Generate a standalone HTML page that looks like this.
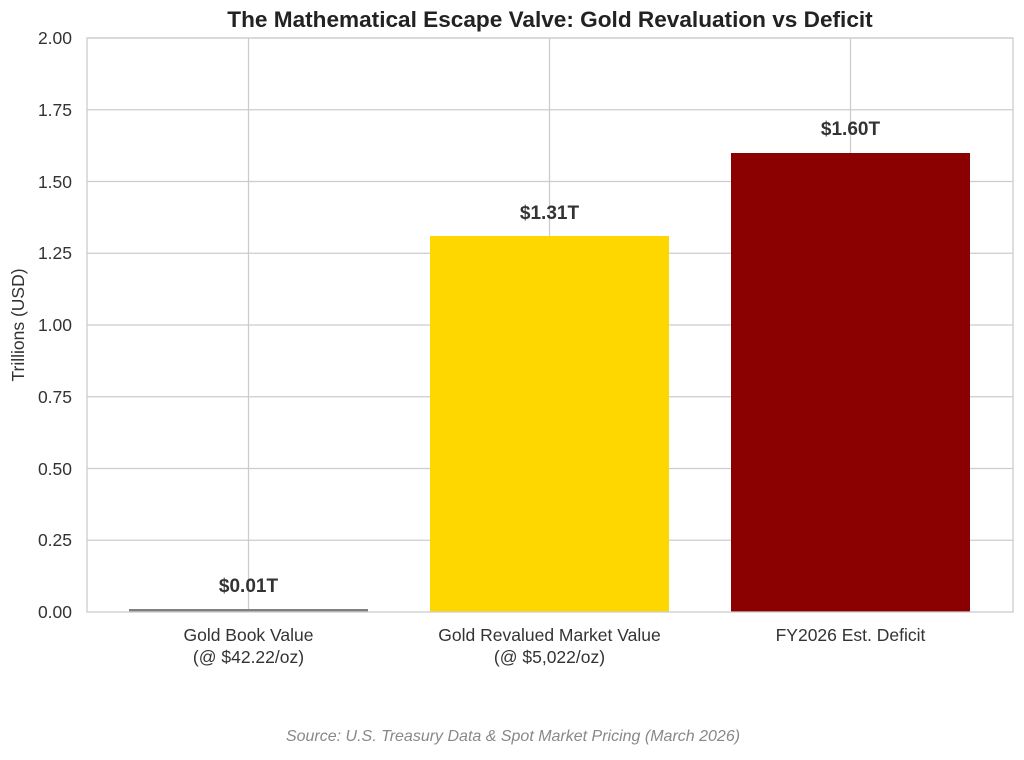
<!DOCTYPE html>
<html><head><meta charset="utf-8"><style>
body{margin:0;background:#fff;}
svg text{font-family:"Liberation Sans",Arial,sans-serif;}
</style></head><body>
<svg width="1024" height="755" xmlns="http://www.w3.org/2000/svg">
<rect width="1024" height="755" fill="#fff"/>
<g stroke="#cccccc" stroke-width="1.3">
<line x1="87" x2="1013" y1="38" y2="38"/>
<line x1="87" x2="1013" y1="109.75" y2="109.75"/>
<line x1="87" x2="1013" y1="181.5" y2="181.5"/>
<line x1="87" x2="1013" y1="253.25" y2="253.25"/>
<line x1="87" x2="1013" y1="325" y2="325"/>
<line x1="87" x2="1013" y1="396.75" y2="396.75"/>
<line x1="87" x2="1013" y1="468.5" y2="468.5"/>
<line x1="87" x2="1013" y1="540.25" y2="540.25"/>
<line x1="248.5" x2="248.5" y1="38" y2="612"/>
<line x1="549.5" x2="549.5" y1="38" y2="612"/>
<line x1="850.5" x2="850.5" y1="38" y2="612"/>
</g>
<rect x="129" y="609" width="239" height="3" fill="#808080"/>
<rect x="430" y="236" width="239" height="376" fill="#FFD700"/>
<rect x="731" y="153" width="239" height="459" fill="#8B0000"/>
<rect x="87" y="38" width="926" height="574" fill="none" stroke="#cccccc" stroke-width="1.3"/>
<g font-size="17.5" fill="#333" text-anchor="end">
<text x="72" y="44">2.00</text>
<text x="72" y="116">1.75</text>
<text x="72" y="188">1.50</text>
<text x="72" y="259">1.25</text>
<text x="72" y="331">1.00</text>
<text x="72" y="403">0.75</text>
<text x="72" y="475">0.50</text>
<text x="72" y="546">0.25</text>
<text x="72" y="618">0.00</text>
</g>
<g font-size="17.5" fill="#333" text-anchor="middle">
<text x="248.5" y="641">Gold Book Value</text>
<text x="248.5" y="663">(@ $42.22/oz)</text>
<text x="549.5" y="641">Gold Revalued Market Value</text>
<text x="549.5" y="663">(@ $5,022/oz)</text>
<text x="850.5" y="641">FY2026 Est. Deficit</text>
</g>
<text transform="translate(24,325) rotate(-90)" font-size="17.5" fill="#333" text-anchor="middle">Trillions (USD)</text>
<g font-size="19" font-weight="bold" fill="#333" text-anchor="middle">
<text x="248.5" y="592">$0.01T</text>
<text x="549.5" y="219">$1.31T</text>
<text x="850.5" y="135">$1.60T</text>
</g>
<text x="550" y="27" font-size="22.6" font-weight="bold" fill="#222" text-anchor="middle">The Mathematical Escape Valve: Gold Revaluation vs Deficit</text>
<text x="513" y="741" font-size="16" font-style="italic" fill="#888" text-anchor="middle">Source: U.S. Treasury Data &amp; Spot Market Pricing (March 2026)</text>
</svg>
</body></html>
